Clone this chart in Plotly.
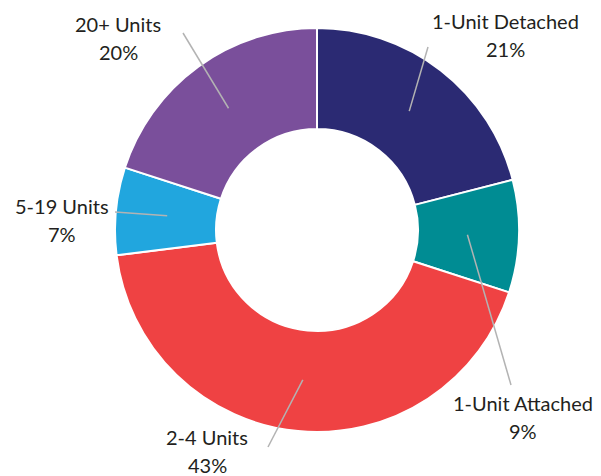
import math
import plotly.graph_objects as go

labels = ["1-Unit Detached", "1-Unit Attached", "2-4 Units", "5-19 Units", "20+ Units"]
values = [21, 9, 43, 7, 20]
pct_labels = ["21%", "9%", "43%", "7%", "20%"]
colors = ["#2b2a73", "#008c93", "#ef4243", "#21a6de", "#7a4f9b"]

W, H = 601, 476
CX, CY, R = 317, 230, 202

# label layout (pixel positions of label centres and leader-line ends)
label_pos = [(505, 21), (523, 403), (207, 437), (62, 206), (118, 24)]
line_end = [(428, 47), (511, 385), (268, 447), (115, 212), (183, 33)]

fig = go.Figure(go.Pie(
    labels=labels, values=values, hole=0.5, sort=False, direction="clockwise",
    rotation=0, textinfo="none", hoverinfo="label+percent",
    marker=dict(colors=colors, line=dict(color="white", width=2)),
    domain=dict(x=[(CX - R) / W, (CX + R) / W], y=[(H - CY - R) / H, (H - CY + R) / H]),
    showlegend=False,
))

total = sum(values)
cum = 0
shapes, annotations = [], []
for i, v in enumerate(values):
    mid = (cum + v / 2) / total * 2 * math.pi
    cum += v
    rr = 0.745 * R
    sx = CX + rr * math.sin(mid)
    sy = CY - rr * math.cos(mid)
    ex, ey = line_end[i]
    shapes.append(dict(type="line", xref="paper", yref="paper",
                       x0=sx / W, y0=1 - sy / H, x1=ex / W, y1=1 - ey / H,
                       line=dict(color="#b3b3b3", width=1.5)))
    lx, ly = label_pos[i]
    annotations.append(dict(xref="paper", yref="paper", x=lx / W, y=1 - ly / H,
                            text=labels[i], showarrow=False, xanchor="center", yanchor="middle",
                            font=dict(family="Lato", size=20, color="#231f20")))
    annotations.append(dict(xref="paper", yref="paper", x=lx / W, y=1 - (ly + 28) / H,
                            text=pct_labels[i], showarrow=False, xanchor="center", yanchor="middle",
                            font=dict(family="Lato", size=20, color="#231f20")))

fig.update_layout(width=W, height=H, margin=dict(l=0, r=0, t=0, b=0),
                  paper_bgcolor="white", plot_bgcolor="white",
                  shapes=shapes, annotations=annotations)
fig.write_html("out.html", config={"displayModeBar": False},
               post_script="document.body.style.margin='0';")
